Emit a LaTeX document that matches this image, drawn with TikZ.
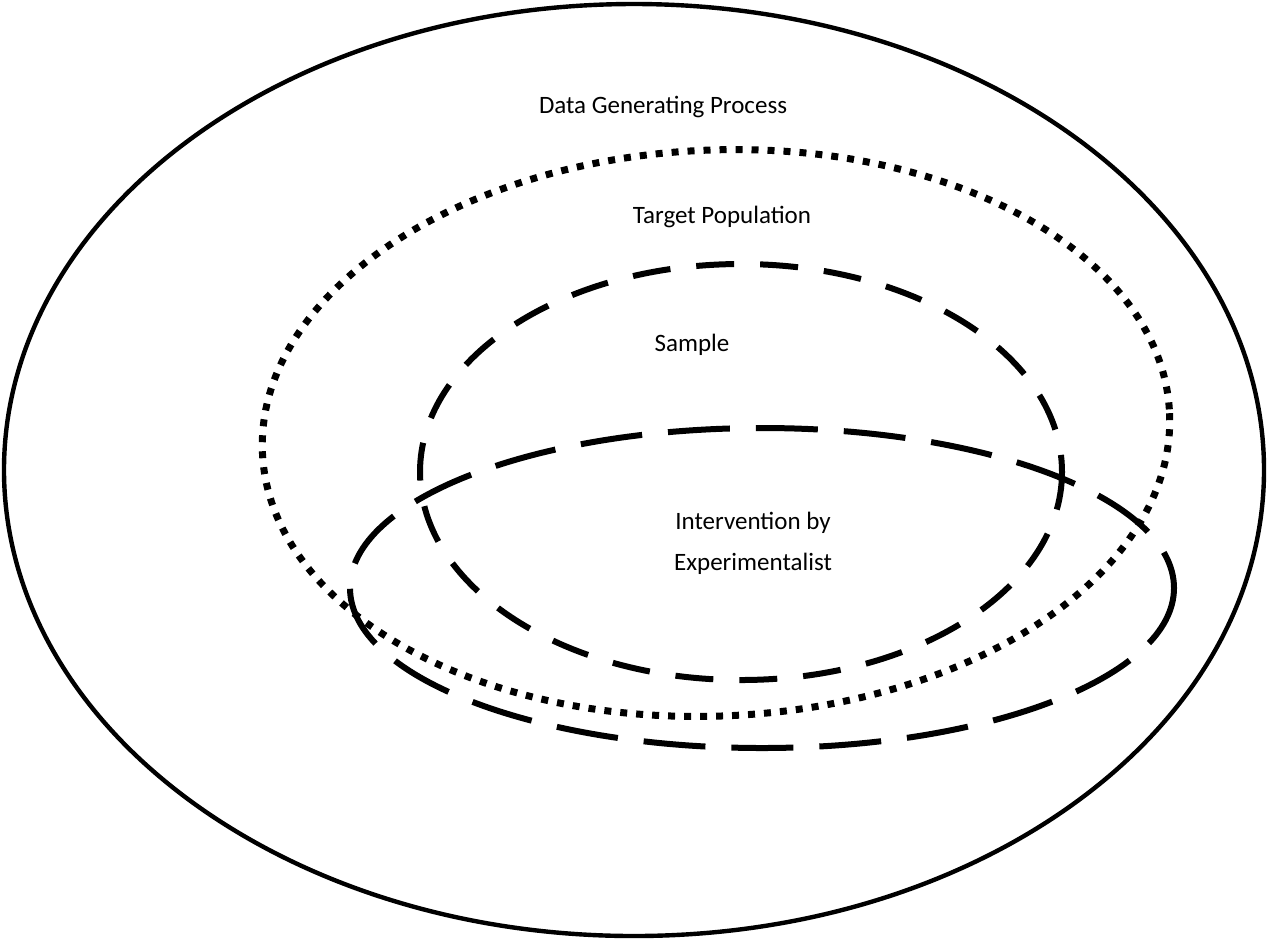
\documentclass[tikz,border=0pt]{standalone}
\usepackage{fontspec}
\setmainfont{Carlito}
\usetikzlibrary{positioning}
\tikzstyle{process} = [draw=black, line width=2.2pt]
\tikzstyle{population} = [draw=black, line width=3.5pt, dash pattern=on 3.5pt off 4.5pt]
\tikzstyle{sampleset} = [draw=black, line width=3pt, dash pattern=on 19pt off 13pt]
\tikzstyle{intervention} = [draw=black, line width=3pt, dash pattern=on 31pt off 13pt]
\tikzstyle{label} = [font=\fontsize{12.5}{20.5}\selectfont, align=center, inner sep=0pt]

\begin{document}
\begin{tikzpicture}[x=0.5pt, y=-0.5pt]
        \useasboundingbox (0,0) rectangle (1268,939);
        \fill[white] (0,0) rectangle (1268,939);

        \draw [process] (634,470) ellipse [x radius=630, y radius=466];
        \draw [population, rotate around={2.5:(716,433)}] (716,433) ellipse [x radius=454, y radius=283];
        \draw [sampleset] (741,472) ellipse [x radius=321, y radius=208];
        \draw [intervention] (762,588) ellipse [x radius=412, y radius=160];

        \node (dgp) [label] at (663,107) {Data Generating Process};
        \node (target) [label] at (722,217) {Target Population};
        \node (sample) [label] at (692,345) {Sample};
        \node (exper) [label] at (753,543) {Intervention by\\ Experimentalist};
    \end{tikzpicture}
\end{document}
